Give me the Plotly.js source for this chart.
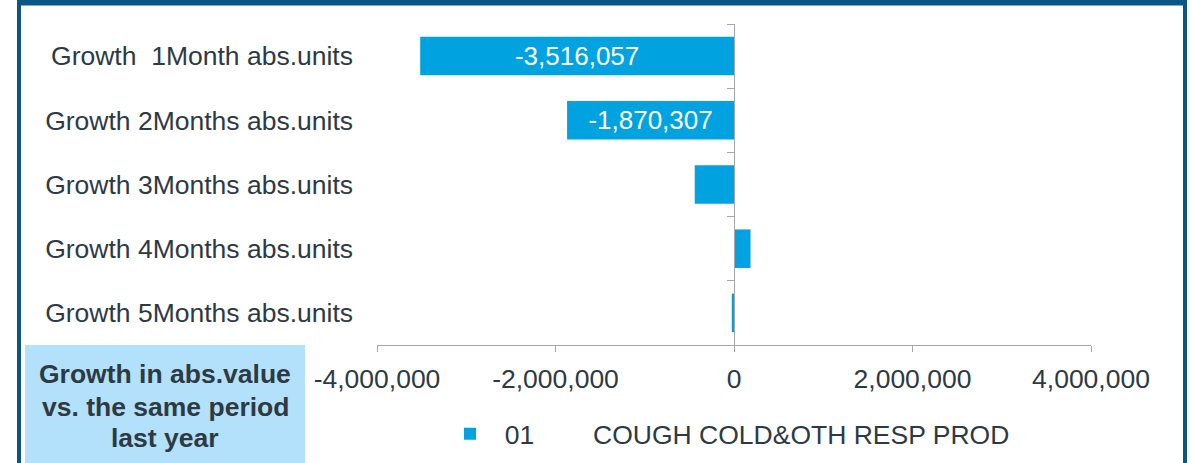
<!DOCTYPE html>
<html>
<head>
<meta charset="utf-8">
<script src="https://cdn.plot.ly/plotly-3.0.1.min.js"></script>
<style>html,body{margin:0;padding:0;background:#fff;}#chart{width:1195px;height:463px;}</style>
</head>
<body>
<div id="chart"></div>
<script>
// ---- data ----
const categories = [
  'Growth\u00A0 1Month abs.units',
  'Growth 2Months abs.units',
  'Growth 3Months abs.units',
  'Growth 4Months abs.units',
  'Growth 5Months abs.units'
];
const values = [-3516057, -1870307, -440000, 185000, -25000];
const barLabels = ['-3,516,057', '-1,870,307', '', '', ''];
const xTickVals = [-4000000, -2000000, 0, 2000000, 4000000];
const xTickText = ['-4,000,000', '-2,000,000', '0', '2,000,000', '4,000,000'];
const seriesName = '\u00A0\u00A001' + '\u00A0'.repeat(8) + 'COUGH COLD&amp;OTH RESP PROD';
const boxLines = ['Growth in abs.value', 'vs. the same period', 'last year'];

// ---- layout helpers (pixel -> paper) ----
const W = 1195, H = 463;
const M = {l: 377, r: 104, t: 24, b: 118, autoexpand: false};
const PW = W - M.l - M.r, PH = H - M.t - M.b;
const px = x => (x - M.l) / PW;
const py = y => (H - M.b - y) / PH;

const FONT = 'Liberation Sans, Arial, sans-serif';
const TXT = '#2E3A43';
const BAR = '#00A3E0';
const FRAME = '#0B5687';
const FS = 26.5;

const traces = [
  {
    type: 'bar', orientation: 'h',
    x: values, y: categories,
    name: seriesName,
    marker: {color: BAR},
    width: 0.6,
    text: barLabels,
    textposition: 'inside',
    insidetextanchor: 'middle',
    constraintext: 'none',
    textangle: 0,
    insidetextfont: {color: '#ffffff', size: 26, family: FONT},
    hoverinfo: 'skip',
    showlegend: true
  },
  {
    type: 'bar', orientation: 'h',
    x: values, y: categories,
    yaxis: 'y2',
    opacity: 0,
    width: 0.6,
    hoverinfo: 'skip',
    showlegend: false
  }
];

const shapes = [
  // light blue box
  {type: 'rect', xref: 'paper', yref: 'paper', x0: px(25), x1: px(305), y0: py(470), y1: py(345),
   fillcolor: '#B3E0FA', line: {width: 0}, layer: 'below'},
  // frame
  {type: 'rect', xref: 'paper', yref: 'paper', x0: px(17), x1: px(21), y0: py(470), y1: py(0),
   fillcolor: FRAME, line: {width: 0}},
  {type: 'rect', xref: 'paper', yref: 'paper', x0: px(1183), x1: px(1187), y0: py(470), y1: py(0),
   fillcolor: FRAME, line: {width: 0}},
  {type: 'rect', xref: 'paper', yref: 'paper', x0: px(17), x1: px(1187), y0: py(5.5), y1: py(-5),
   fillcolor: FRAME, line: {width: 0}}
];

const boxY = [374, 407, 438];
const annotations = boxLines.map((t, i) => ({
  xref: 'paper', yref: 'paper', x: px(165), y: py(boxY[i]),
  xanchor: 'center', yanchor: 'middle', showarrow: false,
  text: '<b>' + t + '</b>',
  font: {family: FONT, size: FS, color: TXT}
}));

const layout = {
  width: W, height: H,
  margin: M,
  paper_bgcolor: '#ffffff', plot_bgcolor: 'rgba(0,0,0,0)',
  font: {family: FONT, size: FS, color: TXT},
  showlegend: true,
  legend: {
    orientation: 'h', x: px(450), xanchor: 'left', y: py(434), yanchor: 'middle',
    font: {family: FONT, size: FS, color: TXT}, bgcolor: 'rgba(0,0,0,0)'
  },
  xaxis: {
    range: [-4000000, 4000000],
    tickmode: 'array', tickvals: xTickVals, ticktext: xTickText,
    showline: true, linecolor: '#A6A6A6', linewidth: 1,
    ticks: 'outside', ticklen: 6, tickcolor: '#A6A6A6',
    showgrid: false, zeroline: false,
    ticklabelstandoff: 4,
    tickfont: {family: FONT, size: FS, color: TXT},
    automargin: false,
    fixedrange: true
  },
  yaxis: {
    type: 'category', range: [4.5, -0.5],
    showline: false, ticks: '', showgrid: false, zeroline: false,
    ticklabelstandoff: 23,
    tickfont: {family: FONT, size: FS, color: TXT},
    automargin: false,
    fixedrange: true
  },
  yaxis2: {
    type: 'category', range: [4.5, -0.5],
    overlaying: 'y', anchor: 'free', position: 0.5, side: 'left',
    showticklabels: false, showline: true, linecolor: '#A6A6A6', linewidth: 1,
    ticks: 'outside', ticklen: 7, tickcolor: '#A6A6A6', tickson: 'boundaries',
    showgrid: false, zeroline: false, automargin: false, fixedrange: true
  },
  shapes: shapes,
  annotations: annotations,
  bargap: 0.4
};

Plotly.newPlot('chart', traces, layout, {displayModeBar: false, staticPlot: true});
</script>
</body>
</html>
